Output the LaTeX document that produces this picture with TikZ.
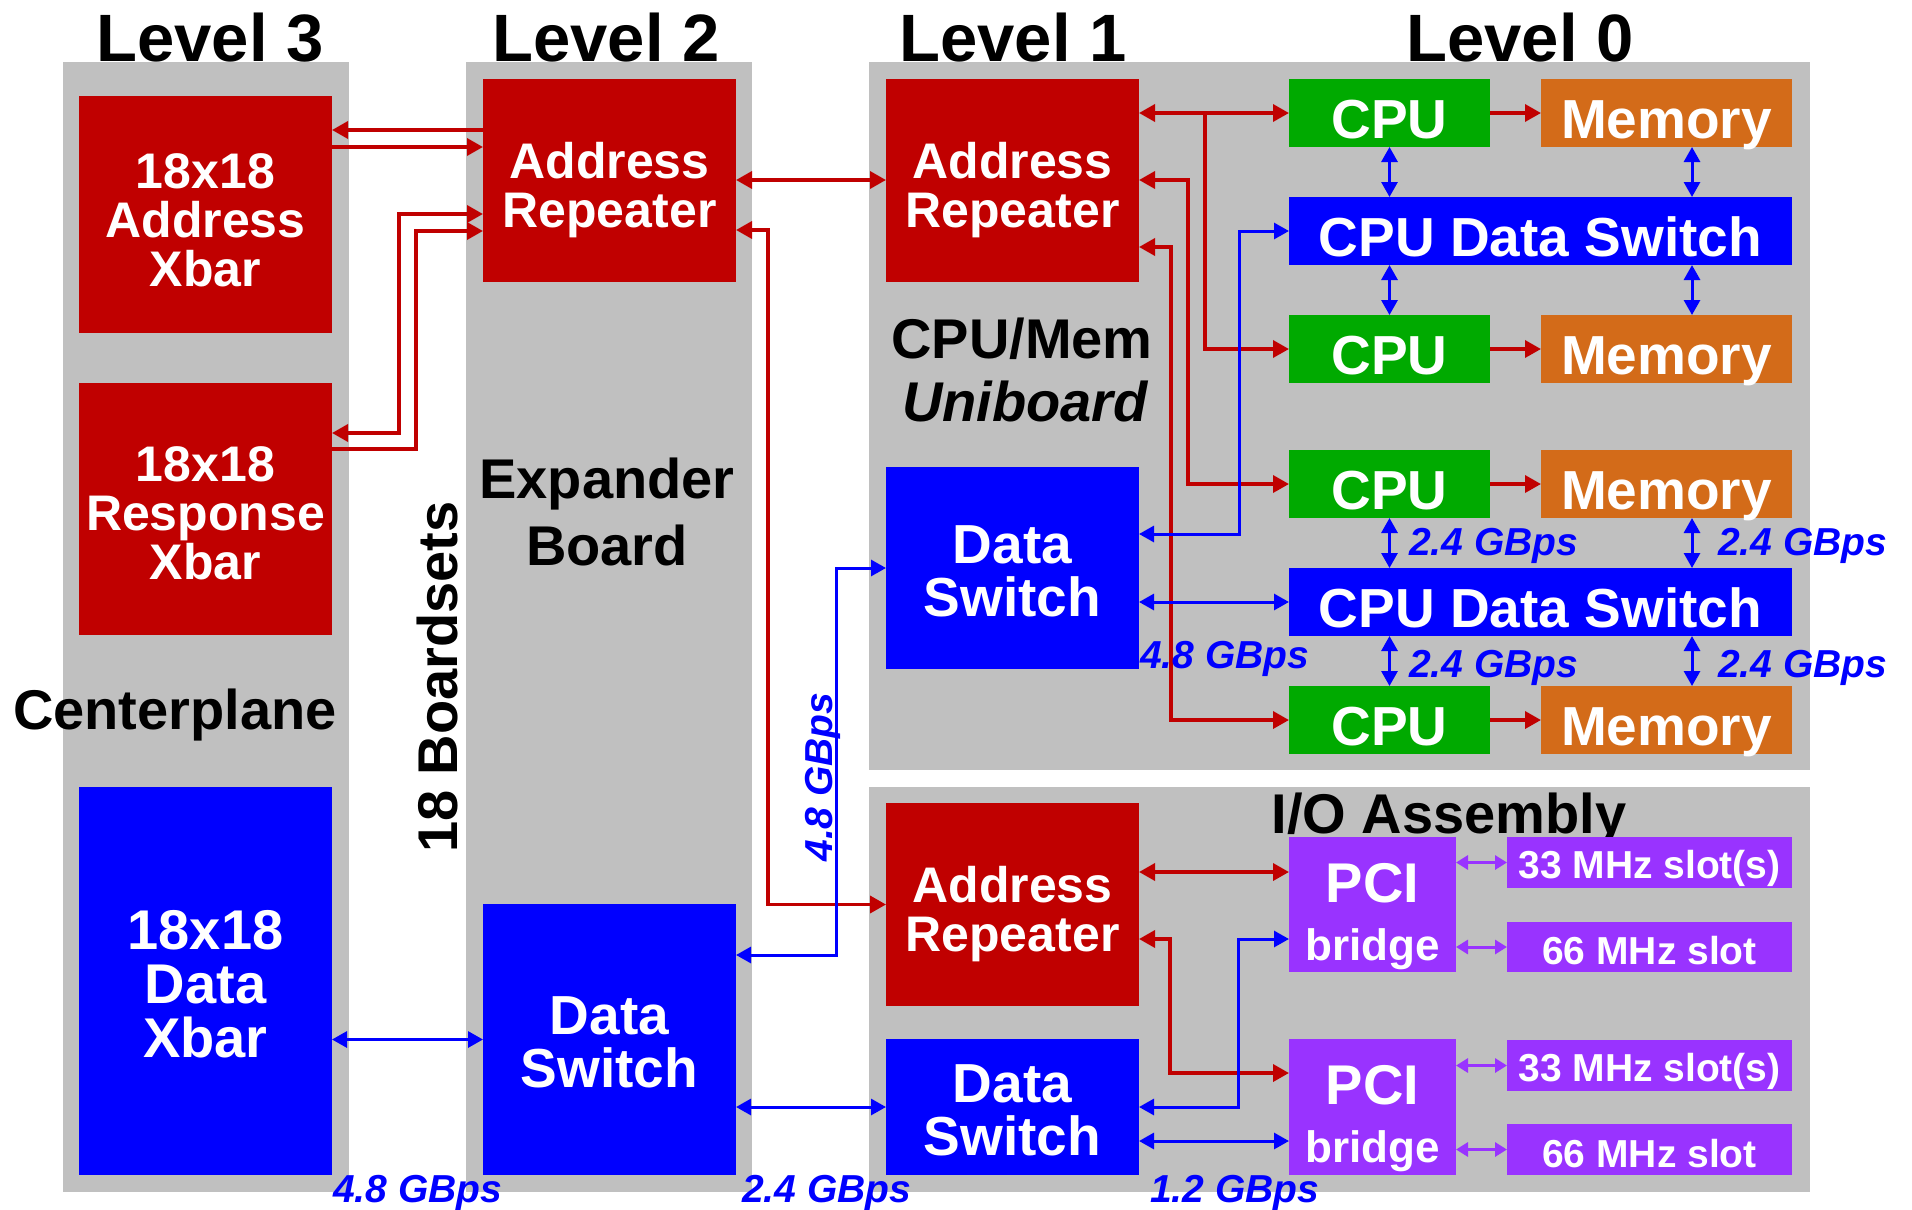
\documentclass[tikz,border=0pt]{standalone}
\usepackage{fontspec}
\setmainfont{Liberation Sans}
\usetikzlibrary{arrows.meta}
\definecolor{cred}{RGB}{192,0,0}
\definecolor{cblue}{RGB}{0,0,255}
\definecolor{cgreen}{RGB}{0,170,0}
\definecolor{corange}{RGB}{211,107,25}
\definecolor{cpurple}{RGB}{153,51,255}
\definecolor{cgray}{RGB}{192,192,192}
\newcommand{\dn}[2]{\raisebox{-#1pt}[\height][\depth]{#2}}
\begin{document}
\begin{tikzpicture}[x=1pt,y=-1pt,
  sz/.style 2 args={minimum width=#1pt, minimum height=#2pt},
  panel/.style={fill=cgray, inner sep=0pt, outer sep=0pt},
  box/.style={inner sep=0pt, outer sep=0pt, text=white, align=center},
  redbox/.style={box, fill=cred, font=\fontsize{50}{49}\selectfont\bfseries},
  bluebox/.style={box, fill=cblue, font=\fontsize{55}{53}\selectfont\bfseries},
  cpubox/.style={box, fill=cgreen, font=\fontsize{55}{55}\selectfont\bfseries},
  membox/.style={box, fill=corange, font=\fontsize{55}{55}\selectfont\bfseries},
  pcibox/.style={box, fill=cpurple, font=\fontsize{56}{56}\selectfont\bfseries},
  slotbox/.style={box, fill=cpurple, font=\fontsize{39}{39}\selectfont\bfseries},
  ra/.style={draw=cred, line width=3.5pt, >={Triangle[length=16pt,width=17pt]}},
  ba/.style={draw=cblue, line width=3pt, >={Triangle[length=15pt,width=16pt]}},
  pa/.style={draw=cpurple, line width=3pt, >={Triangle[length=12pt,width=14pt]}},
  lbl/.style={text=cblue, font=\fontsize{39}{39}\selectfont\bfseries\itshape, inner sep=0pt, anchor=base west},
  leveltitle/.style={font=\fontsize{67}{67}\selectfont\bfseries, inner sep=0pt, anchor=base},
  sect/.style={font=\fontsize{56}{62}\selectfont\bfseries, inner sep=0pt, anchor=base}]

\useasboundingbox[fill=white] (0,0) rectangle (1912,1210);

% panels
\node[panel, sz={286}{1130}] (pC) at (206,627) {};
\node[panel, sz={286}{1130}] (pE) at (609,627) {};
\node[panel, sz={941}{708}] (pU) at (1339.5,416) {};
\node[panel, sz={941}{405}] (pIO) at (1339.5,989.5) {};

% titles
\node[leveltitle] (t3) at (210,61) {Level 3};
\node[leveltitle] (t2) at (606,61) {Level 2};
\node[leveltitle] (t1) at (1013,61) {Level 1};
\node[leveltitle] (t0) at (1520,61) {Level 0};

\node[sect] (centerplane) at (175,729) {Centerplane};
\node[sect] (expander) at (607,498) {Expander};
\node[sect] (board) at (607,565) {Board};
\node[sect] (cpumem) at (1022,358) {CPU/Mem};
\node[sect, font=\fontsize{56}{62}\selectfont\bfseries\itshape] (uniboard) at (1025,421) {Uniboard};
\node[sect] (ioasm) at (1449,833) {I/O Assembly};
\node[sect, rotate=90] (boardsets) at (457,677) {18 Boardsets};

% level 3
\node[redbox, sz={253}{237}] (axbar) at (205.5,214.5) {\dn{6}{18x18}\\\dn{6}{Address}\\\dn{6}{Xbar}};
\node[redbox, sz={253}{252}] (rxbar) at (205.5,509) {\dn{4}{18x18}\\\dn{4}{Response}\\\dn{4}{Xbar}};
\node[bluebox, font=\fontsize{56}{54}\selectfont\bfseries, sz={253}{388}] (dxbar) at (205.5,981) {\dn{3}{18x18}\\\dn{3}{Data}\\\dn{3}{Xbar}};

% level 2
\node[redbox, sz={253}{203}] (ar2) at (609.5,180.5) {\dn{10}{Address}\\\dn{10}{Repeater}};
\node[bluebox, sz={253}{271}] (ds2) at (609.5,1039.5) {\dn{3}{Data}\\\dn{3}{Switch}};

% level 1 uniboard
\node[redbox, sz={253}{203}] (ar1) at (1012.5,180.5) {\dn{10}{Address}\\\dn{10}{Repeater}};
\node[bluebox, sz={253}{202}] (ds1) at (1012.5,568) {\dn{3}{Data}\\\dn{3}{Switch}};

% level 0 uniboard
\node[cpubox, sz={201}{68}] (cpu1) at (1389.5,113) {\dn{7}{CPU}};
\node[membox, sz={251}{68}] (mem1) at (1666.5,113) {\dn{12}{Memory}};
\node[bluebox, sz={503}{68}] (cds1) at (1540.5,231) {\dn{6}{CPU Data Switch}};
\node[cpubox, sz={201}{68}] (cpu2) at (1389.5,349) {\dn{7}{CPU}};
\node[membox, sz={251}{68}] (mem2) at (1666.5,349) {\dn{12}{Memory}};
\node[cpubox, sz={201}{68}] (cpu3) at (1389.5,484) {\dn{7}{CPU}};
\node[membox, sz={251}{68}] (mem3) at (1666.5,484) {\dn{12}{Memory}};
\node[bluebox, sz={503}{68}] (cds2) at (1540.5,602) {\dn{6}{CPU Data Switch}};
\node[cpubox, sz={201}{68}] (cpu4) at (1389.5,720) {\dn{7}{CPU}};
\node[membox, sz={251}{68}] (mem4) at (1666.5,720) {\dn{12}{Memory}};

% I/O assembly
\node[redbox, sz={253}{203}] (ar3) at (1012.5,904.5) {\dn{10}{Address}\\\dn{10}{Repeater}};
\node[bluebox, sz={253}{136}] (ds3) at (1012.5,1107) {\dn{3}{Data}\\\dn{3}{Switch}};
\node[pcibox, sz={167}{135}] (pci1) at (1372.5,904.5) {\dn{11}{PCI}\\{\fontsize{44}{44}\selectfont\dn{13}{bridge}}};
\node[pcibox, sz={167}{136}] (pci2) at (1372.5,1107) {\dn{11}{PCI}\\{\fontsize{44}{44}\selectfont\dn{13}{bridge}}};
\node[slotbox, sz={285}{51}] (s33a) at (1649.5,862.5) {\dn{6}{33 MHz slot(s)}};
\node[slotbox, sz={285}{50}] (s66a) at (1649.5,947) {\dn{4}{66 MHz slot}};
\node[slotbox, sz={285}{51}] (s33b) at (1649.5,1065.5) {\dn{6}{33 MHz slot(s)}};
\node[slotbox, sz={285}{51}] (s66b) at (1649.5,1149.5) {\dn{4}{66 MHz slot}};

% red connectors
\draw[ra,->] (ar2.west |- 0,130) -- (axbar.east |- 0,130);
\draw[ra,->] (axbar.east |- 0,147) -- (ar2.west |- 0,147);
\draw[ra,<->] (ar2.west |- 0,214) -| (399,433) -- (rxbar.east |- 0,433);
\draw[ra,->] (rxbar.east |- 0,449) -| (416,231) -- (ar2.west |- 0,231);
\draw[ra,<->] (ar2.east |- 0,180) -- (ar1.west |- 0,180);
\draw[ra,<->] (ar2.east |- 0,230) -| (ar3.west -| 768,0) -- (ar3.west);
\draw[ra,<->] (ar1.east |- cpu1.west) -- (cpu1.west);
\draw[ra,->] (cpu1.west -| 1205,0) |- (cpu2.west);
\draw[ra,<->] (ar1.east |- 0,180) -| (cpu3.west -| 1188,0) -- (cpu3.west);
\draw[ra,<->] (ar1.east |- 0,247) -| (cpu4.west -| 1171,0) -- (cpu4.west);
\draw[ra,->] (cpu1.east) -- (mem1.west);
\draw[ra,->] (cpu2.east) -- (mem2.west);
\draw[ra,->] (cpu3.east) -- (mem3.west);
\draw[ra,->] (cpu4.east) -- (mem4.west);
\draw[ra,<->] (ar3.east |- 0,872) -- (pci1.west |- 0,872);
\draw[ra,<->] (ar3.east |- 0,939) -| (1170,1073) -- (pci2.west |- 0,1073);

% blue connectors
\draw[ba,<->] (dxbar.east |- ds2.west) -- (ds2.west);
\draw[ba,<->] (ds2.east |- 0,955) -| (836,568) -- (ds1.west |- 0,568);
\draw[ba,<->] (ds2.east |- ds3.west) -- (ds3.west);
\draw[ba,<->] (ds1.east |- 0,534) -| (cds1.west -| 1239,0) -- (cds1.west);
\draw[ba,<->] (ds1.east |- cds2.west) -- (cds2.west);
\draw[ba,<->] (cpu1.south) -- (cds1.north -| cpu1.south);
\draw[ba,<->] (mem1.south -| 1692,0) -- (cds1.north -| 1692,0);
\draw[ba,<->] (cds1.south -| cpu2.north) -- (cpu2.north);
\draw[ba,<->] (cds1.south -| 1692,0) -- (mem2.north -| 1692,0);
\draw[ba,<->] (cpu3.south) -- (cds2.north -| cpu3.south);
\draw[ba,<->] (mem3.south -| 1692,0) -- (cds2.north -| 1692,0);
\draw[ba,<->] (cds2.south -| cpu4.north) -- (cpu4.north);
\draw[ba,<->] (cds2.south -| 1692,0) -- (mem4.north -| 1692,0);
\draw[ba,<->] (ds3.east) -| (1238,939) -- (pci1.west |- 0,939);
\draw[ba,<->] (ds3.east |- 0,1141) -- (pci2.west |- 0,1141);

% purple connectors
\draw[pa,<->] (pci1.east |- s33a.west) -- (s33a.west);
\draw[pa,<->] (pci1.east |- s66a.west) -- (s66a.west);
\draw[pa,<->] (pci2.east |- s33b.west) -- (s33b.west);
\draw[pa,<->] (pci2.east |- s66b.west) -- (s66b.west);

% bandwidth labels
\node[lbl] (l1) at (1409,555) {2.4 GBps};
\node[lbl] (l2) at (1718,555) {2.4 GBps};
\node[lbl] (l3) at (1409,677) {2.4 GBps};
\node[lbl] (l4) at (1718,677) {2.4 GBps};
\node[lbl] (l5) at (1140,668) {4.8 GBps};
\node[lbl] (l6) at (333,1202) {4.8 GBps};
\node[lbl] (l7) at (742,1202) {2.4 GBps};
\node[lbl] (l8) at (1150,1202) {1.2 GBps};
\node[lbl, anchor=base, rotate=90] (l9) at (832,777) {4.8 GBps};
\end{tikzpicture}
\end{document}
